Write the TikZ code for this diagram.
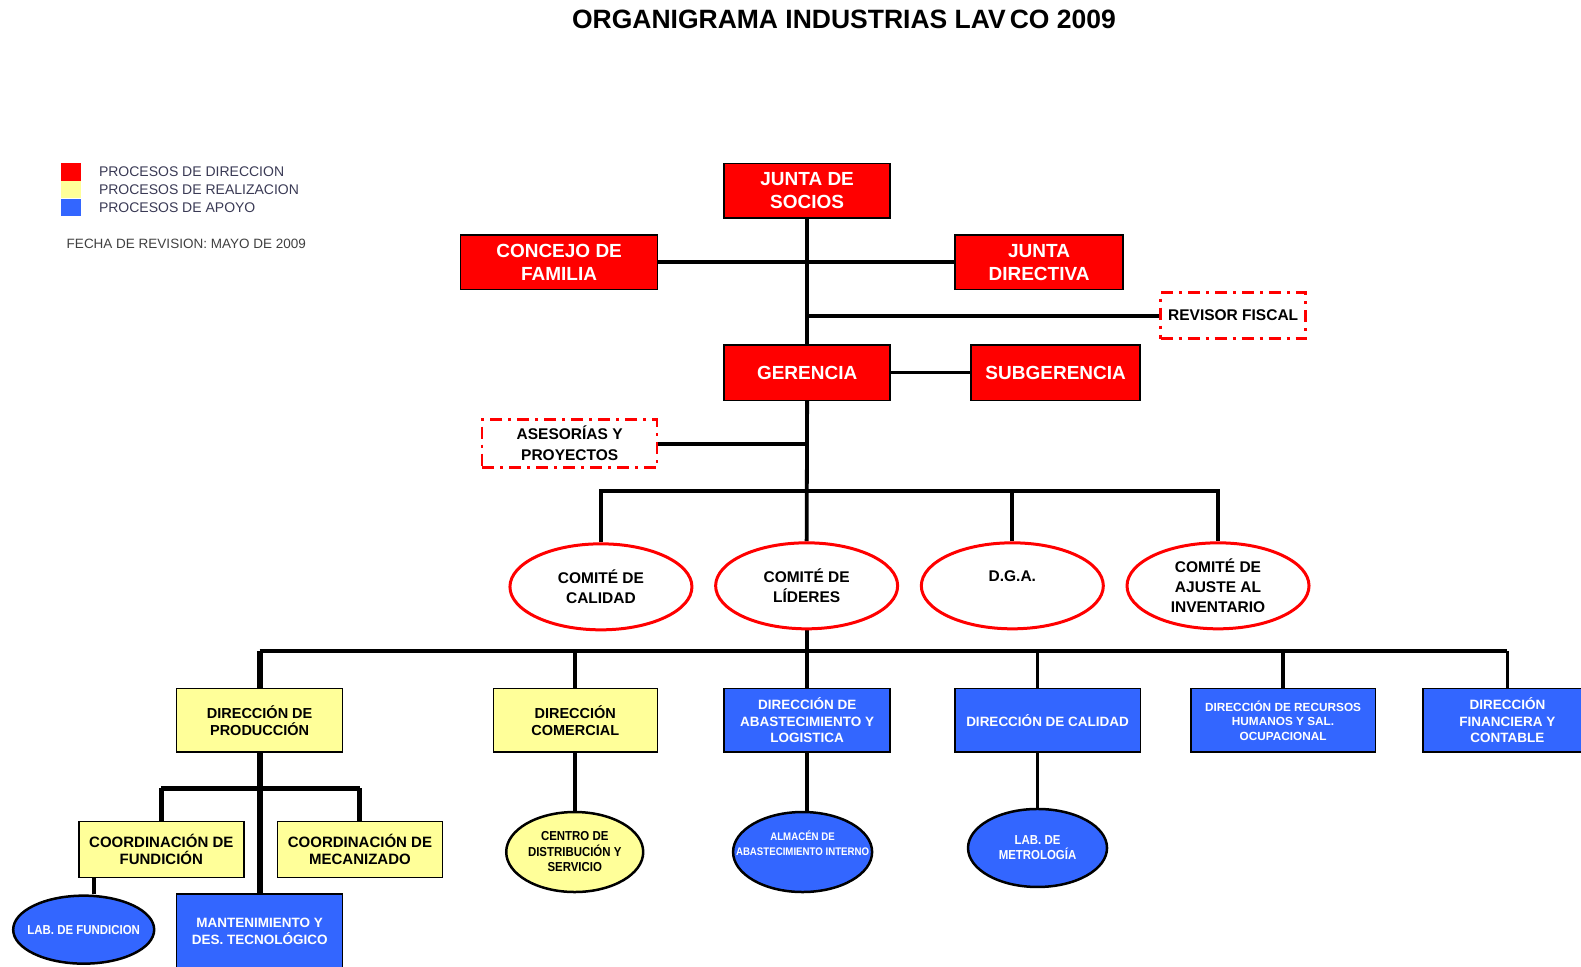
\documentclass[tikz,border=0pt]{standalone}
\usepackage{fontspec}
\setmainfont{Liberation Sans}
\newfontfamily\condsans[FakeStretch=0.88]{Liberation Sans}
\usetikzlibrary{shapes.geometric,backgrounds,calc}
\definecolor{dirred}{HTML}{FF0000}
\definecolor{realyel}{HTML}{FFFF99}
\definecolor{apoblue}{HTML}{3366FF}
\definecolor{legtext}{HTML}{3A3A55}
\tikzset{
  box/.style={rectangle, draw=black, line width=1.4pt, inner sep=0pt, align=center},
  redbox/.style={box, fill=dirred, text=white,
    font=\bfseries\fontsize{19}{23}\selectfont},
  yelbox/.style={box, fill=realyel, text=black,
    font=\bfseries\fontsize{14.5}{17}\selectfont},
  bluebox/.style={box, fill=apoblue, text=white,
    font=\bfseries\fontsize{13.5}{16.5}\selectfont},
  dashbox/.style={rectangle, draw=dirred, line width=2.6pt, fill=white,
    dash pattern=on 12pt off 6pt on 3pt off 6pt, inner sep=0pt, align=center,
    font=\bfseries\fontsize{15.5}{21}\selectfont},
  comite/.style={ellipse, draw=dirred, line width=3pt, fill=white, inner sep=0pt,
    minimum width=182pt, minimum height=86pt, align=center,
    font=\bfseries\fontsize{15.5}{20}\selectfont},
  subell/.style={ellipse, draw=black, line width=2.5pt, inner sep=0pt},
  elltext/.style={align=center, inner sep=0pt},
  legsq/.style={rectangle, inner sep=0pt, minimum width=20pt, minimum height=17.5pt},
  legtxt/.style={anchor=west, inner sep=0pt, text=legtext,
    font=\fontsize{14}{16}\selectfont},
  link/.style={line width=3.8pt, black},
  heavylink/.style={line width=6pt, black},
}
\begin{document}
\begin{tikzpicture}[x=1.0083pt, y=-1.0083pt]
\useasboundingbox (0,0) rectangle (1568,959);

% title
\node[font=\bfseries\fontsize{26.5}{30}\selectfont] (title) at (837,19)
  {ORGANIGRAMA INDUSTRIAS LAV\kern4pt CO 2009};

% legend
\node[legsq, fill=dirred]  (sq1) at (70,170.5) {};
\node[legsq, fill=realyel] (sq2) at (70,188) {};
\node[legsq, fill=apoblue] (sq3) at (70,206) {};
\node[legtxt] (lg1) at (98,170.5) {PROCESOS DE DIRECCION};
\node[legtxt] (lg2) at (98,188) {PROCESOS DE REALIZACION};
\node[legtxt] (lg3) at (98,205.5) {PROCESOS DE APOYO};
\node[legtxt, text=black!75, font=\fontsize{13.5}{16}\selectfont] (fecha) at (66,242)
  {FECHA DE REVISION: MAYO DE 2009};

% direction level
\node[redbox, minimum width=166pt, minimum height=54.5pt] (js) at (800.5,189) {JUNTA DE\\SOCIOS};
\node[redbox, minimum width=197pt, minimum height=54.5pt] (cf) at (554.5,260) {CONCEJO DE\\FAMILIA};
\node[redbox, minimum width=168pt, minimum height=54.5pt] (jd) at (1030.5,260) {JUNTA\\DIRECTIVA};
\node[dashbox, minimum width=145pt, minimum height=46pt] (rf) at (1223,313) {REVISOR FISCAL};
\node[redbox, minimum width=166pt, minimum height=55.5pt] (ge) at (800.5,369.5) {GERENCIA};
\node[redbox, minimum width=169pt, minimum height=55.5pt] (sg) at (1047,369.5) {SUBGERENCIA};
\node[dashbox, minimum width=175pt, minimum height=48pt] (ap) at (565,440) {ASESORÍAS Y\\PROYECTOS};

% committees
\node[comite] (e1) at (596,582) {COMITÉ DE\\CALIDAD};
\node[comite] (e2) at (800,581) {COMITÉ DE\\LÍDERES};
\node[comite] (e3) at (1004,581) {D.G.A.\\\mbox{}};
\node[comite] (e4) at (1208,581) {COMITÉ DE\\AJUSTE AL\\INVENTARIO};

% directions
\node[yelbox, minimum width=166pt, minimum height=63.5pt] (dp) at (257.5,714.5) {DIRECCIÓN DE\\PRODUCCIÓN};
\node[yelbox, minimum width=164pt, minimum height=63.5pt] (dc) at (570.5,714.5) {DIRECCIÓN\\COMERCIAL};
\node[bluebox, minimum width=166pt, minimum height=63.5pt] (da) at (800.5,714.5) {DIRECCIÓN DE\\ABASTECIMIENTO Y\\LOGISTICA};
\node[bluebox, minimum width=185.5pt, minimum height=63.5pt] (dq) at (1039,714.5) {DIRECCIÓN DE CALIDAD};
\node[bluebox, minimum width=184.5pt, minimum height=63.5pt,
      font=\bfseries\fontsize{11.8}{14.5}\selectfont] (dr) at (1272.5,714.5)
  {DIRECCIÓN DE RECURSOS\\HUMANOS Y SAL.\\OCUPACIONAL};
\node[bluebox, minimum width=169pt, minimum height=63.5pt] (df) at (1495,714.5) {DIRECCIÓN\\FINANCIERA Y\\CONTABLE};

% production branch
\node[yelbox, minimum width=165pt, minimum height=55.5pt, font=\bfseries\fontsize{15}{17}\selectfont] (cfu) at (160,842.5) {COORDINACIÓN DE\\FUNDICIÓN};
\node[yelbox, minimum width=165pt, minimum height=55.5pt, font=\bfseries\fontsize{15}{17}\selectfont] (cme) at (357,842.5) {COORDINACIÓN DE\\MECANIZADO};
\node[subell, fill=apoblue, minimum width=141pt, minimum height=68pt,
      label={[elltext, text=white, font=\condsans\bfseries\fontsize{13}{15}\selectfont]center:LAB. DE FUNDICION}]
  (lf) at (83,922) {};
\node[bluebox, minimum width=166pt, minimum height=74pt] (mt) at (257.5,923.5) {MANTENIMIENTO Y\\DES. TECNOLÓGICO};

% units below the other directions
\node[subell, fill=realyel, minimum width=137pt, minimum height=80pt,
      label={[elltext, text=black, font=\condsans\bfseries\fontsize{13}{15.5}\selectfont]center:CENTRO DE\\DISTRIBUCIÓN Y\\SERVICIO}]
  (cd) at (570,845) {};
\node[subell, fill=apoblue, minimum width=139pt, minimum height=80pt,
      label={[elltext, text=white, yshift=9pt, font=\condsans\bfseries\fontsize{11}{15}\selectfont]center:ALMACÉN DE\\ABASTECIMIENTO INTERNO}]
  (al) at (796,845) {};
\node[subell, fill=apoblue, minimum width=139pt, minimum height=78pt,
      label={[elltext, text=white, font=\condsans\bfseries\fontsize{13}{15}\selectfont]center:LAB. DE\\METROLOGÍA}]
  (lm) at (1029,841) {};

% connectors
\begin{scope}[on background layer]
  \coordinate (b1) at (800,487);
  \coordinate (b2) at (800,646);
  \coordinate (b3) at (258,782);
  \draw[link] (js.south) -- (ge.north);
  \draw[link] (ge.south) -- (e2.north);
  \draw[link] (cf.east) -- (jd.west);
  \draw[link] (js.south |- rf.west) -- (rf.west);
  \draw[link] (ge.east) -- (sg.west);
  \draw[link] (ap.east) -- (ap.east -| ge.south);
  \draw[link] (e1.north) -- (e1.north |- b1) -- (e4.north |- b1) -- (e4.north);
  \draw[link] (e3.north) -- (e3.north |- b1);
  \draw[link] (e2.south) -- (b2);
  \draw[link] (dp.north |- b2) -- (df.north |- b2);
  \draw[heavylink] (dp.north |- b2) -- (dp.north);
  \draw[link] (dc.north |- b2) -- (dc.north);
  \draw[link] (da.north |- b2) -- (da.north);
  \draw[link] (lm.north |- b2) -- (lm.north |- dq.north);
  \draw[link] (dr.north |- b2) -- (dr.north);
  \draw[link] (df.north |- b2) -- (df.north);
  % production branch
  \draw[heavylink] (dp.south) -- (mt.north);
  \draw[line width=5pt] (cfu.north |- b3) -- (cme.north |- b3);
  \draw[line width=5pt] (cfu.north |- b3) -- (cfu.north);
  \draw[line width=5pt] (cme.north |- b3) -- (cme.north);
  \draw[link] ([xshift=10]lf.north) -- ([xshift=10]lf.north |- cfu.south);
  % lower units
  \draw[link] (dc.south) -- (dc.south |- cd.north);
  \draw[link] (da.south) -- (da.south |- al.north);
  \draw[link] (lm.north |- dq.south) -- (lm.north);
\end{scope}
\end{tikzpicture}
\end{document}
